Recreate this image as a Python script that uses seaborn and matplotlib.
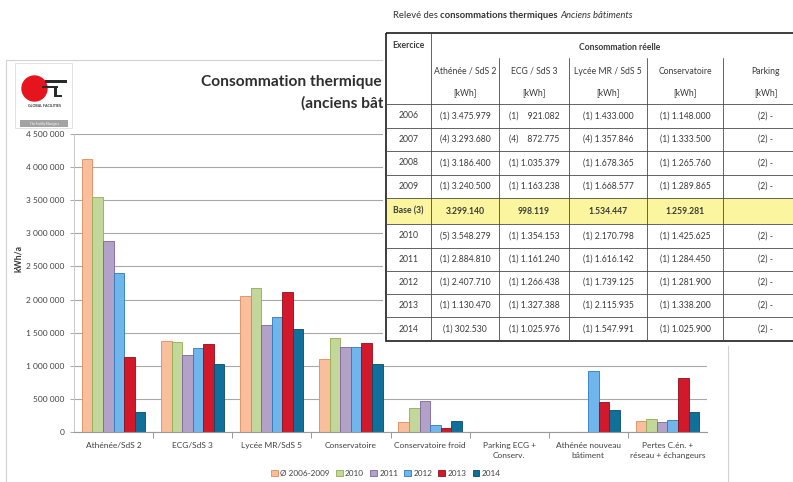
import numpy as np
import pandas as pd
import matplotlib
matplotlib.use("Agg")
import matplotlib.pyplot as plt
from matplotlib.patches import Rectangle, Circle, Patch
from matplotlib.ticker import FuncFormatter, MultipleLocator, FixedLocator
import seaborn as sns

W, H = 793, 482

# ---- chart data (kWh/a) ----
categories = [
    "Athénée/SdS 2", "ECG/SdS 3", "Lycée MR/SdS 5", "Conservatoire",
    "Conservatoire froid", "Parking ECG +\nConserv.",
    "Athénée nouveau\nbâtiment", "Pertes C.én. +\nréseau + échangeurs",
]
series = ["Ø 2006-2009", "2010", "2011", "2012", "2013", "2014"]
nan = np.nan
avg_2006_2009 = [4130000, 1375000, 2060000, 1100000, 146000, nan, nan, 172000]
val_2010 = [3548279, 1354153, 2170798, 1425625, 359000, nan, nan, 197000]
val_2011 = [2884810, 1161240, 1616142, 1284450, 465000, nan, nan, 152000]
val_2012 = [2407710, 1266438, 1739125, 1281900, 106000, nan, 924000, 187000]
val_2013 = [1130470, 1327388, 2115935, 1338200, 61000, nan, 460000, 813000]
val_2014 = [302530, 1025976, 1547991, 1025900, 167000, nan, 338000, 308000]

face_colors = ["#f9bf9c", "#c4d79b", "#b3a2c7", "#6fb6ec", "#d2182b", "#11709a"]
edge_colors = ["#e0895a", "#8fae4f", "#7d64a0", "#2f78b8", "#8e0e1b", "#0a4a68"]

# ---- table data ----
table_title = ["Relevé des", "consommations thermiques", "Anciens bâtiments"]
table_columns = ["Athénée / SdS 2", "ECG / SdS 3", "Lycée MR / SdS 5", "Conservatoire", "Parking"]
table_rows = ["2006", "2007", "2008", "2009", "Base (3)", "2010", "2011", "2012", "2013", "2014"]
cells_athenee = ["(1) 3.475.979", "(4) 3.293.680", "(1) 3.186.400", "(1) 3.240.500", "3.299.140",
                 "(5) 3.548.279", "(1) 2.884.810", "(1) 2.407.710", "(1) 1.130.470", "(1) 302.530"]
cells_ecg = ["(1)    921.082", "(4)    872.775", "(1) 1.035.379", "(1) 1.163.238", "998.119",
             "(1) 1.354.153", "(1) 1.161.240", "(1) 1.266.438", "(1) 1.327.388", "(1) 1.025.976"]
cells_lycee = ["(1) 1.433.000", "(4) 1.357.846", "(1) 1.678.365", "(1) 1.668.577", "1.534.447",
               "(1) 2.170.798", "(1) 1.616.142", "(1) 1.739.125", "(1) 2.115.935", "(1) 1.547.991"]
cells_conserv = ["(1) 1.148.000", "(1) 1.333.500", "(1) 1.265.760", "(1) 1.289.865", "1.259.281",
                 "(1) 1.425.625", "(1) 1.284.450", "(1) 1.281.900", "(1) 1.338.200", "(1) 1.025.900"]
cells_parking = ["(2) -", "(2) -", "(2) -", "(2) -", "", "(2) -", "(2) -", "(2) -", "(2) -", "(2) -"]

values = [avg_2006_2009, val_2010, val_2011, val_2012, val_2013, val_2014]
df = pd.DataFrame(
    [(c, s, v) for s, vals in zip(series, values) for c, v in zip(categories, vals)],
    columns=["category", "series", "kwh"],
).dropna()

sns.set_theme(style="white")
plt.rcParams["font.family"] = ["Lato", "DejaVu Sans"]

fig = plt.figure(figsize=(W / 100, H / 100), dpi=100)
renderer = fig.canvas.get_renderer()


def rect(x0, y0, x1, y1):
    return [x0 / W, 1 - y1 / H, (x1 - x0) / W, (y1 - y0) / H]


# ---- slide background: frame, logo, title, axis label ----
bg = fig.add_axes([0, 0, 1, 1], zorder=0)
bg.set_xlim(0, W)
bg.set_ylim(H, 0)
bg.axis("off")
bg.add_patch(Rectangle((6, 60), 722, 430, fill=False, ec="#d2d2d2", lw=0.8))

bg.add_patch(Rectangle((15, 63), 57, 65, fill=False, ec="#dddddd", lw=0.6))
bg.add_patch(Circle((34.5, 88.5), 12.5, color="#e5141f"))
bg.add_patch(Rectangle((45, 80), 22, 3, fc="#2a2a2a", ec="none"))
bg.add_patch(Rectangle((42, 86), 16, 2.2, fc="#2a2a2a", ec="none"))
bg.add_patch(Rectangle((54, 88), 2.5, 9, fc="#2a2a2a", ec="none"))
bg.add_patch(Rectangle((54, 95), 8, 2, fc="#2a2a2a", ec="none"))
bg.text(44, 106, "GLOBAL FACILITIES", fontsize=2.6, fontweight="bold", color="#333333",
        ha="center", va="center")
bg.add_patch(Rectangle((20, 120), 48, 7, fc="#a3a3a3", ec="none"))
bg.text(44, 123.5, "The Facility Managers", fontsize=2.2, color="white", ha="center", va="center")

bg.text(201, 82, "Consommation thermique", fontsize=11.2, fontweight="bold",
        color="#2e2e2e", ha="left", va="center")
bg.text(301, 103, "(anciens bâtiments)", fontsize=11.2, fontweight="bold",
        color="#2e2e2e", ha="left", va="center")
bg.text(19, 258, "kWh/a", rotation=90, fontsize=6.2, fontweight="bold",
        color="#333333", ha="center", va="center")

# ---- bar chart ----
ax = fig.add_axes(rect(74, 134, 707, 432), zorder=1)
ax.set_facecolor("none")
sns.barplot(data=df, x="category", y="kwh", hue="series", order=categories,
            hue_order=series, palette=face_colors, saturation=1, width=0.8,
            errorbar=None, legend=False, ax=ax)
for cont, ec in zip(ax.containers, edge_colors):
    for bar in cont:
        bar.set_edgecolor(ec)
        bar.set_linewidth(0.6)

ax.set_xlim(-0.5, len(categories) - 0.5)
ax.set_ylim(0, 4500000)
ax.yaxis.set_major_locator(MultipleLocator(500000))
ax.yaxis.set_major_formatter(FuncFormatter(lambda v, p: f"{int(round(v)):,}".replace(",", " ")))
ax.grid(axis="y", color="#a8a8a8", lw=0.8)
ax.set_axisbelow(True)
for s in ["top", "right"]:
    ax.spines[s].set_visible(False)
ax.spines["left"].set_color("#c8c8c8")
ax.spines["left"].set_linewidth(0.7)
ax.spines["bottom"].set_color("#9a9a9a")
ax.spines["bottom"].set_linewidth(0.8)
ax.tick_params(axis="y", length=3, width=0.7, color="#a8a8a8", labelsize=6.0,
               labelcolor="#404040", pad=4, left=True)
ax.tick_params(axis="x", which="major", length=0, labelsize=6.0, labelcolor="#404040", pad=7)
ax.xaxis.set_minor_locator(FixedLocator(np.arange(0.5, len(categories) - 0.5, 1)))
ax.tick_params(axis="x", which="minor", length=4, width=0.7, color="#9a9a9a", bottom=True)
for lab in ax.get_xticklabels():
    lab.set_linespacing(1.6)
ax.set_xlabel("")
ax.set_ylabel("")

handles = [Patch(facecolor=fc, edgecolor=ec, lw=0.6) for fc, ec in zip(face_colors, edge_colors)]
fig.legend(handles, series, loc="center", bbox_to_anchor=(386 / W, 1 - 473 / H), ncol=6,
           frameon=False, fontsize=5.9, handlelength=0.8, handleheight=0.8,
           handletextpad=0.3, columnspacing=0.75, labelcolor="#404040")

# ---- table overlay ----
tab = fig.add_axes(rect(383, 0, W, 346), zorder=5)
tab.set_facecolor("white")
tab.set_xlim(383, W)
tab.set_ylim(346, 0)
tab.set_xticks([])
tab.set_yticks([])
for s in tab.spines.values():
    s.set_visible(False)

# title line of the table: plain, bold and italic runs placed one after another
x_run = 393.0
inv = tab.transData.inverted()
for txt, style in zip(table_title, [dict(), dict(fontweight="bold"), dict(fontstyle="italic")]):
    t = tab.text(x_run, 15, txt, fontsize=6.8, color="#333333", va="center", ha="left", **style)
    bb = t.get_window_extent(renderer=renderer)
    x_run = inv.transform((bb.x1, bb.y0))[0] + 2.5

x_edges = [386, 431, 499, 569, 647, 723, 809]
y_edges = [104, 127.5, 151, 174.5, 198, 224, 248, 271, 294, 317, 341]
top = 33

tab.add_patch(Rectangle((x_edges[0], y_edges[4]), x_edges[-1] - x_edges[0],
                        y_edges[5] - y_edges[4], fc="#faf59e", ec="none"))
for y in y_edges[:-1]:
    tab.plot([x_edges[0], x_edges[-1]], [y, y], color="#4a4a4a", lw=0.6)
tab.plot([x_edges[1], x_edges[1]], [top, y_edges[-1]], color="#4a4a4a", lw=0.6)
for x in x_edges[2:-1]:
    tab.plot([x, x], [58, y_edges[-1]], color="#4a4a4a", lw=0.6)
tab.add_patch(Rectangle((x_edges[0], top), x_edges[-1] - x_edges[0], y_edges[-1] - top,
                        fill=False, ec="#1c1c1c", lw=1.2))

fs = 6.2
tcol = "#3a3a3a"
tab.text((x_edges[0] + x_edges[1]) / 2, 46, "Exercice", fontsize=fs, fontweight="bold",
         color=tcol, ha="center", va="center")
tab.text((x_edges[1] + x_edges[-1]) / 2, 47, "Consommation réelle", fontsize=fs,
         fontweight="bold", color=tcol, ha="center", va="center")
col_cells = [cells_athenee, cells_ecg, cells_lycee, cells_conserv, cells_parking]
for j, (name, cells) in enumerate(zip(table_columns, col_cells)):
    cx = (x_edges[j + 1] + x_edges[j + 2]) / 2
    tab.text(cx, 71, name, fontsize=fs, color=tcol, ha="center", va="center")
    tab.text(cx, 93, "[kWh]", fontsize=fs, color=tcol, ha="center", va="center")
    for i, s in enumerate(cells):
        cy = (y_edges[i] + y_edges[i + 1]) / 2
        bold = table_rows[i].startswith("Base")
        tab.text(cx, cy, s, fontsize=fs, color=tcol, ha="center", va="center",
                 fontweight="bold" if bold else "normal")
for i, r in enumerate(table_rows):
    cy = (y_edges[i] + y_edges[i + 1]) / 2
    bold = r.startswith("Base")
    tab.text((x_edges[0] + x_edges[1]) / 2, cy, r, fontsize=fs, color=tcol, ha="center",
             va="center", fontweight="bold" if bold else "normal")

fig.savefig("out.png", dpi=100)
